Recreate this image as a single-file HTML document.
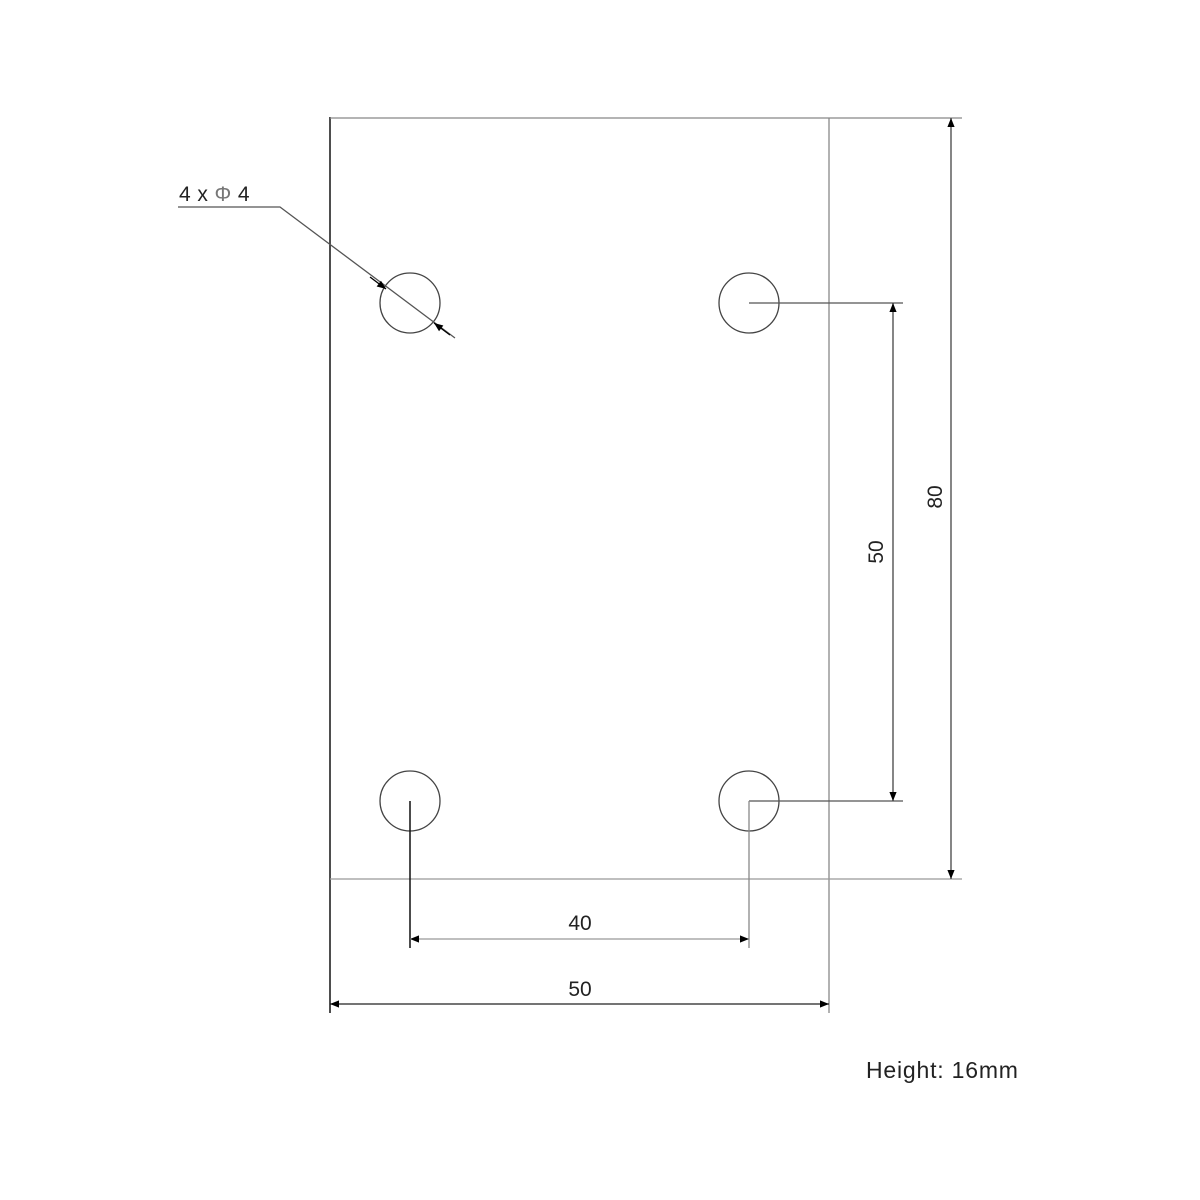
<!DOCTYPE html>
<html><head><style>body{margin:0;background:#fff}svg{display:block}</style></head><body>
<svg width="1200" height="1200" viewBox="0 0 1200 1200" xmlns="http://www.w3.org/2000/svg" font-family="Liberation Sans, sans-serif">
<defs>
<marker id="a" viewBox="0 0 10 10" refX="10" refY="5" markerWidth="13" markerHeight="9" markerUnits="userSpaceOnUse" orient="auto"><path d="M0,1 L10,5 L0,9 z" fill="#000"/></marker>
<marker id="b" viewBox="0 0 10 10" refX="0" refY="5" markerWidth="13" markerHeight="9" markerUnits="userSpaceOnUse" orient="auto"><path d="M10,1 L0,5 L10,9 z" fill="#000"/></marker>
</defs>
<g fill="none" stroke-width="1.3">
<line x1="330" y1="117" x2="330" y2="1013" stroke="#222" stroke-width="1.6"/>
<line x1="330" y1="118" x2="962" y2="118" stroke="#888"/>
<line x1="829" y1="118" x2="829" y2="1013" stroke="#888"/>
<line x1="330" y1="879" x2="962" y2="879" stroke="#999"/>
<g stroke="#444">
<circle cx="410" cy="303" r="30"/><circle cx="749" cy="303" r="30"/>
<circle cx="410" cy="801" r="30"/><circle cx="749" cy="801" r="30"/>
</g>
<line x1="749" y1="303" x2="903" y2="303" stroke="#555"/>
<line x1="749" y1="801" x2="903" y2="801" stroke="#555"/>
<line x1="410" y1="801" x2="410" y2="948" stroke="#111" stroke-width="1.5"/>
<line x1="749" y1="801" x2="749" y2="948" stroke="#888"/>
<line x1="893" y1="303" x2="893" y2="801" stroke="#444" marker-start="url(#b)" marker-end="url(#a)"/>
<line x1="951" y1="118" x2="951" y2="879" stroke="#444" marker-start="url(#b)" marker-end="url(#a)"/>
<line x1="410" y1="939" x2="749" y2="939" stroke="#999" marker-start="url(#b)" marker-end="url(#a)"/>
<line x1="330" y1="1004" x2="829" y2="1004" stroke="#222" marker-start="url(#b)" marker-end="url(#a)"/>
<polyline points="178,207 280,207 455,338" stroke="#555"/>
<line x1="370" y1="277" x2="386" y2="289" stroke="#000" marker-end="url(#a)"/>
<line x1="450" y1="335" x2="434" y2="323" stroke="#000" marker-end="url(#a)"/>
</g>
<g fill="#222" font-size="21">
<text x="179" y="201" letter-spacing="0.4">4 x <tspan fill="#777">Φ</tspan> 4</text>
<text x="580" y="930" text-anchor="middle">40</text>
<text x="580" y="996" text-anchor="middle">50</text>
<text transform="translate(883,552) rotate(-90)" text-anchor="middle">50</text>
<text transform="translate(942,497) rotate(-90)" text-anchor="middle">80</text>
<text x="866" y="1078" font-size="23" letter-spacing="0.8">Height: 16mm</text>
</g>
</svg>
</body></html>
